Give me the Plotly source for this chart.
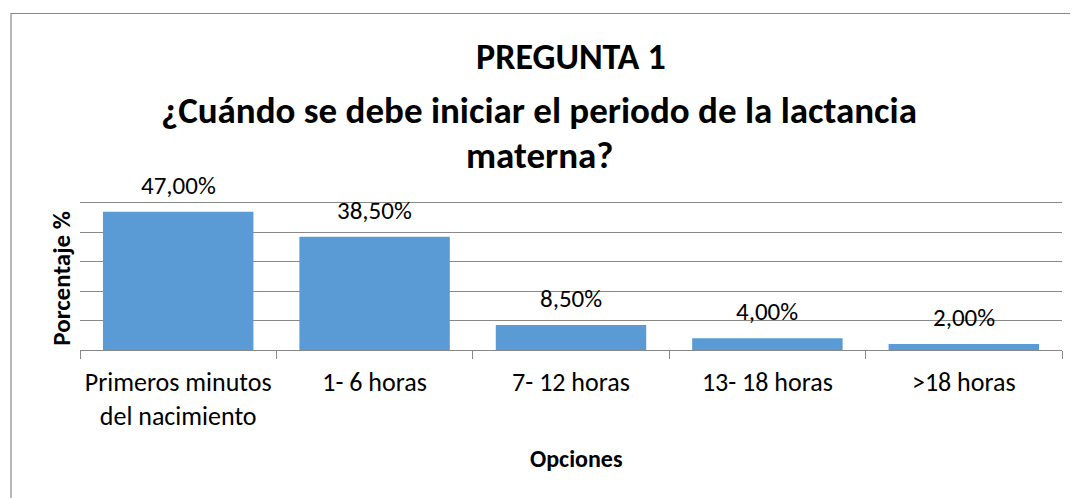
import plotly.graph_objects as go

categories = ["Primeros minutos<br>del nacimiento", "1- 6 horas", "7- 12 horas", "13- 18 horas", ">18 horas"]
values = [47.0, 38.5, 8.5, 4.0, 2.0]
labels = [f"{v:.2f}".replace(".", ",") + "%" for v in values]
y_grid = [10, 20, 30, 40, 50]

FONT = "Calibri, Carlito, Lato, sans-serif"
OFF = 8  # page body margin
YMAX = 51.0
W, H = 1078 - OFF, 498 - OFF
BASE = 350.5 - OFF
TOP50 = 203 - OFF
T = BASE - (BASE - TOP50) * YMAX / 50.0
L = 80 - OFF
R = W - (1062 - OFF)
B = H - BASE
pw = W - L - R
ph = BASE - T

def px_x(px):
    return (px - OFF - L) / pw

def px_y(py):
    return (BASE - (py - OFF)) / ph

fig = go.Figure()
fig.add_trace(go.Bar(
    x=categories, y=values,
    marker=dict(color="#5B9BD5", line=dict(width=0)),
    hoverinfo="skip",
))

for c, v, t in zip(categories, values, labels):
    fig.add_annotation(x=c, y=v, text=t, showarrow=False, yanchor="bottom",
                       yshift=9, font=dict(family=FONT, size=25, color="#000000"))

fig.add_annotation(xref="paper", yref="paper", x=px_x(571), y=px_y(57), text="<b>PREGUNTA 1</b>",
                   showarrow=False, xanchor="center", yanchor="middle",
                   font=dict(family=FONT, size=36, color="#000000"))
fig.add_annotation(xref="paper", yref="paper", x=px_x(539), y=px_y(110),
                   text="<b>¿Cuándo se debe iniciar el periodo de la lactancia</b>",
                   showarrow=False, xanchor="center", yanchor="middle",
                   font=dict(family=FONT, size=37, color="#000000"))
fig.add_annotation(xref="paper", yref="paper", x=px_x(539), y=px_y(155), text="<b>materna?</b>",
                   showarrow=False, xanchor="center", yanchor="middle",
                   font=dict(family=FONT, size=37, color="#000000"))
fig.add_annotation(xref="paper", yref="paper", x=px_x(576), y=px_y(459), text="<b>Opciones</b>",
                   showarrow=False, xanchor="center", yanchor="middle",
                   font=dict(family=FONT, size=24, color="#000000"))
fig.add_annotation(xref="paper", yref="paper", x=px_x(62), y=px_y(279), text="<b>Porcentaje %</b>",
                   showarrow=False, xanchor="center", yanchor="middle", textangle=-90,
                   font=dict(family=FONT, size=25, color="#000000"))

fig.add_shape(type="rect", xref="paper", yref="paper",
              x0=px_x(11), x1=px_x(1100), y0=px_y(520), y1=px_y(13),
              line=dict(color="#888888", width=1.2), fillcolor="rgba(0,0,0,0)", layer="below")

fig.update_layout(
    width=W, height=H,
    margin=dict(l=L, r=R, t=T, b=B),
    paper_bgcolor="white", plot_bgcolor="white",
    bargap=0.234,
    showlegend=False,
    font=dict(family=FONT, size=20, color="#000000"),
)
fig.update_xaxes(
    showline=True, linecolor="#888888", linewidth=1,
    ticks="outside", tickson="boundaries", ticklen=8, tickcolor="#888888",
    tickfont=dict(family=FONT, size=26, color="#000000"),
    ticklabelstandoff=9,
    showgrid=False,
)
fig.update_yaxes(
    range=[0, YMAX], tickvals=y_grid, showticklabels=False,
    showgrid=True, gridcolor="#888888", gridwidth=1,
    zeroline=False, showline=False, ticks="",
)

fig.write_html("out.html")
